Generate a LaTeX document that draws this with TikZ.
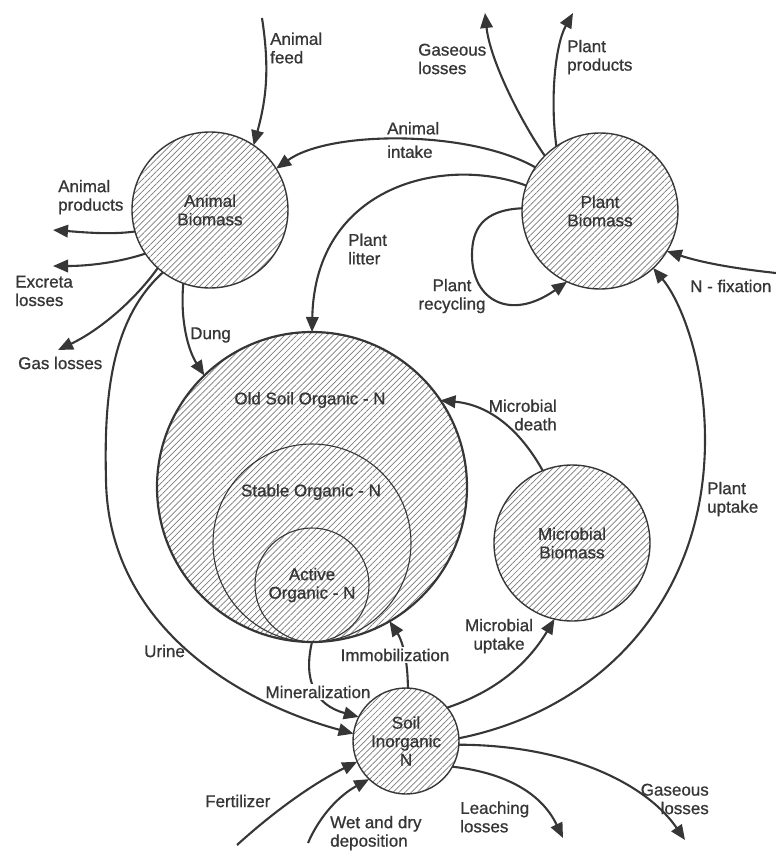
\documentclass[tikz,border=0pt]{standalone}
\usepackage{fontspec}
\setmainfont{Liberation Sans}
\newfontfamily\labfont{Liberation Sans}[FakeBold=0.9]
\usetikzlibrary{arrows.meta,patterns.meta}
\definecolor{ink}{HTML}{363636}
\definecolor{hatch}{HTML}{7A7A7A}
\begin{document}
\begin{tikzpicture}[x=1pt,y=-1pt,
  pool/.style={circle,draw=ink,line width=1.4pt,inner sep=0pt,outer sep=0pt,
     pattern={Lines[angle=45,distance=4.3pt,line width=0.7pt]},pattern color=hatch,
     font=\labfont\fontsize{17}{18.5}\selectfont,text=ink,align=center},
  ring/.style={circle,draw=ink,line width=1.1pt,inner sep=0pt,outer sep=0pt},
  flow/.style={draw=ink,line width=2.1pt,-{Triangle[length=15pt,width=12.5pt]}},
  txt/.style={font=\labfont\fontsize{17}{18.5}\selectfont,text=ink,inner sep=0pt},
  cut/.style={txt,fill=white,inner sep=1.5pt}]
\useasboundingbox (0,0) rectangle (776,863);

% pools
\node[pool,minimum size=156pt] (ab) at (210,210) {Animal\\Biomass};
\node[pool,minimum size=156pt] (pb) at (600,211) {Plant\\Biomass};
\node[pool,minimum size=310pt,line width=2.2pt] (os) at (312,487) {};
\node[ring,minimum size=198pt] (st) at (312,543) {};
\node[ring,minimum size=114pt] (ac) at (312,585) {};
\node[pool,minimum size=156pt] (mb) at (572,543) {Microbial\\Biomass};
\node[pool,minimum size=106pt] (sin) at (406,741) {Soil\\Inorganic\\N};

\node[txt] (tos) at (310,400) {Old Soil Organic - N};
\node[txt] (tst) at (311,492) {Stable Organic - N};
\node[txt,align=center] (tac) at (312,585) {Active\\Organic - N};

% free ends
\coordinate (feed) at (262,18);
\coordinate (gtop) at (485,13);
\coordinate (pprod) at (573,13);
\coordinate (nfix) at (776,273);
\coordinate (aprod) at (53,230);
\coordinate (excr) at (53,266);
\coordinate (gasl) at (58,350);
\coordinate (gbot) at (685,840);
\coordinate (leach) at (563,838);
\coordinate (fert) at (237,845);
\coordinate (wetd) at (308,843);

% connectors
\draw[flow] (feed) .. controls (270,70) and (266,100) .. (ab.56);
\draw[flow] (pb.146) .. controls (470,130) and (330,130) .. (ab.32);
\draw[flow] (pb.161) .. controls (445,155) and (315,185) .. (os.90);
\draw[flow] (pb.178) .. controls (482,210) and (472,230) .. (472,255)
   .. controls (472,300) and (510,322) .. (pb.245);
\draw[flow] (pb.135) .. controls (520,120) and (490,60) .. (gtop);
\draw[flow] (pb.124) .. controls (550,100) and (555,45) .. (pprod);
\draw[flow] (nfix) .. controls (730,268) and (700,262) .. (pb.329);
\draw[flow] (sin.3) .. controls (600,710) and (705,600) .. (705,440)
   .. controls (705,360) and (680,300) .. (pb.313);
\draw[flow] (ab.196) .. controls (110,235) and (80,232) .. (aprod);
\draw[flow] (ab.214) .. controls (120,262) and (90,266) .. (excr);
\draw[flow] (ab.228) .. controls (135,300) and (100,330) .. (gasl);
\draw[flow] (ab.233) .. controls (110,320) and (104,400) .. (106,480)
   .. controls (108,620) and (230,700) .. (sin.172);
\draw[flow] (ab.250) .. controls (180,320) and (188,350) .. (os.134);
\draw[flow] (os.270) .. controls (303,680) and (315,705) .. (sin.153);
\draw[flow] (sin.88) .. controls (408,660) and (402,640) .. (os.300);
\draw[flow] (sin.39) .. controls (500,690) and (530,660) .. (mb.257);
\draw[flow] (mb.112) .. controls (520,430) and (490,405) .. (os.34);
\draw[flow] (sin.356) .. controls (565,745) and (645,782) .. (gbot);
\draw[flow] (sin.331) .. controls (500,772) and (540,790) .. (leach);
\draw[flow] (fert) .. controls (270,815) and (310,785) .. (sin.203);
\draw[flow] (wetd) .. controls (320,815) and (340,795) .. (sin.226);

% labels
\node[txt,align=left,anchor=west] (l1) at (270,48) {Animal\\feed};
\node[txt,align=left,anchor=west] (l2) at (387,140) {Animal\\[5pt]intake};
\node[txt,align=left,anchor=west] (l3) at (418,59) {Gaseous\\losses};
\node[txt,align=left,anchor=west] (l4) at (567,57) {Plant\\products};
\node[txt,align=left,anchor=west] (l5) at (58,197) {Animal\\products};
\node[txt,align=left,anchor=west] (l6) at (15,291) {Excreta\\losses};
\node[txt,anchor=west] (l7) at (18,363) {Gas losses};
\node[txt,anchor=west] (l8) at (190,335) {Dung};
\node[txt,align=left,anchor=west] (l9) at (348,249) {Plant\\litter};
\node[txt,align=center] (l10) at (452,296) {Plant\\recycling};
\node[txt,anchor=west] (l11) at (690,286) {N - fixation};
\node[txt,align=right,anchor=east] (l12) at (557,415) {Microbial\\death};
\node[txt,align=left,anchor=west] (l13) at (707,499) {Plant\\uptake};
\node[txt,align=center] (l14) at (499,636) {Microbial\\uptake};
\node[cut] (l15) at (395,655) {Immobilization};
\node[cut] (l16) at (318,692) {Mineralization};
\node[txt,anchor=west] (l17) at (144,651) {Urine};
\node[txt,anchor=west] (l18) at (205,801) {Fertilizer};
\node[txt,align=left,anchor=west] (l19) at (330,833) {Wet and dry\\deposition};
\node[txt,align=left,anchor=west] (l20) at (460,817) {Leaching\\losses};
\node[txt,align=right,anchor=east] (l21) at (709,799) {Gaseous\\losses};
\end{tikzpicture}
\end{document}
